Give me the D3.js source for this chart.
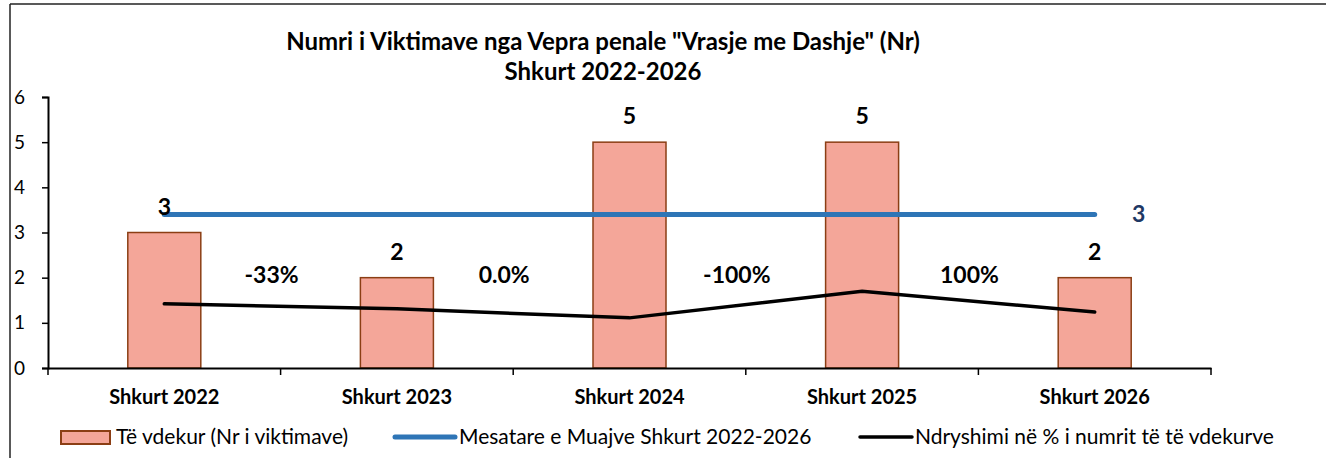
<!DOCTYPE html>
<html>
<head>
<meta charset="utf-8">
<script src="https://cdn.jsdelivr.net/npm/d3@7"></script>
<style>
  body { margin: 0; background: #fff; }
  svg { display: block; font-family: Lato, "Open Sans", sans-serif; }
</style>
</head>
<body>
<div id="chart"></div>
<script>
// data
var categories = ['Shkurt 2022', 'Shkurt 2023', 'Shkurt 2024', 'Shkurt 2025', 'Shkurt 2026'];
var victims = [3, 2, 5, 5, 2];
var average = 3.4;
var averageLabel = '3';
var changeLine = [1.42, 1.31, 1.11, 1.70, 1.24];
var changeLabels = ['-33%', '0.0%', '-100%', '100%'];
var yTicks = [0, 1, 2, 3, 4, 5, 6];
var titleLines = ['Numri i Viktimave nga Vepra penale "Vrasje me Dashje" (Nr)', 'Shkurt 2022-2026'];
var legendLabels = ['Të vdekur (Nr i viktimave)', 'Mesatare e Muajve Shkurt 2022-2026', 'Ndryshimi në % i numrit të të vdekurve'];

var width = 1326, height = 458;
var margin = {top: 97, left: 48, right: 115, bottom: 90};

var svg = d3.select('#chart').append('svg')
    .attr('width', width)
    .attr('height', height);

// frame (top and left edges)
svg.append('line').attr('x1', 10).attr('x2', width).attr('y1', 4).attr('y2', 4)
    .attr('stroke', '#222').attr('stroke-width', 1.5);
svg.append('line').attr('x1', 10).attr('x2', 10).attr('y1', 4).attr('y2', height)
    .attr('stroke', '#222').attr('stroke-width', 1.5);

var x = d3.scaleBand()
    .domain(categories)
    .range([margin.left, width - margin.right]);

var y = d3.scaleLinear()
    .domain([0, 6])
    .range([height - margin.bottom, margin.top]);

var barW = 73;

// title
svg.selectAll('text.title').data(titleLines)
    .enter().append('text')
    .attr('class', 'title')
    .attr('x', 603)
    .attr('y', function (d, i) { return 50 + i * 30; })
    .attr('text-anchor', 'middle')
    .attr('font-size', 24)
    .attr('font-weight', 'bold')
    .text(function (d) { return d; });

// bars
svg.selectAll('rect.bar').data(victims)
    .enter().append('rect')
    .attr('class', 'bar')
    .attr('x', function (d, i) { return x(categories[i]) + x.bandwidth() / 2 - barW / 2; })
    .attr('y', function (d) { return y(d); })
    .attr('width', barW)
    .attr('height', function (d) { return y(0) - y(d); })
    .attr('fill', '#F4A699')
    .attr('stroke', '#8B3E14')
    .attr('stroke-width', 1.5);

// y axis
var yAxis = svg.append('g')
    .attr('transform', 'translate(' + margin.left + ',0)')
    .call(d3.axisLeft(y).tickValues(yTicks).tickFormat(d3.format('d'))
        .tickSizeOuter(0).tickSize(6).tickPadding(17));
yAxis.select('.domain').attr('stroke', '#000').attr('stroke-width', 2);
yAxis.selectAll('.tick line').attr('stroke', '#000').attr('stroke-width', 1.5);
yAxis.selectAll('.tick text')
    .attr('font-size', 19)
    .attr('font-family', 'Lato, sans-serif')
    .attr('fill', '#000');

// x axis
var xAxis = svg.append('g')
    .attr('transform', 'translate(0,' + y(0) + ')')
    .call(d3.axisBottom(x).tickSize(0).tickSizeOuter(0).tickPadding(22));
xAxis.select('.domain').attr('stroke', '#000').attr('stroke-width', 2);
xAxis.selectAll('.tick text')
    .attr('font-size', 20)
    .attr('font-weight', 'bold')
    .attr('font-family', 'Lato, sans-serif')
    .attr('fill', '#000');

// category boundary ticks
var bounds = categories.map(function (c) { return x(c); }).concat([x(categories[categories.length - 1]) + x.bandwidth()]);
svg.selectAll('line.xtick').data(bounds)
    .enter().append('line')
    .attr('class', 'xtick')
    .attr('x1', function (d) { return d; })
    .attr('x2', function (d) { return d; })
    .attr('y1', y(0))
    .attr('y2', y(0) + 7)
    .attr('stroke', '#000')
    .attr('stroke-width', 1.5);

// average line
var cx = function (i) { return x(categories[i]) + x.bandwidth() / 2; };
svg.append('line')
    .attr('x1', cx(0))
    .attr('x2', cx(categories.length - 1))
    .attr('y1', y(average))
    .attr('y2', y(average))
    .attr('stroke', '#2E75B6')
    .attr('stroke-width', 5)
    .attr('stroke-linecap', 'round');
svg.append('text')
    .attr('x', cx(categories.length - 1) + 44)
    .attr('y', y(average) + 8)
    .attr('text-anchor', 'middle')
    .attr('font-size', 23)
    .attr('font-weight', 'bold')
    .attr('fill', '#1F3864')
    .text(averageLabel);

// change line
var line = d3.line()
    .x(function (d, i) { return cx(i); })
    .y(function (d) { return y(d); });
svg.append('path')
    .datum(changeLine)
    .attr('d', line)
    .attr('fill', 'none')
    .attr('stroke', '#000')
    .attr('stroke-width', 3.5)
    .attr('stroke-linecap', 'round');

// bar value labels
svg.selectAll('text.val').data(victims)
    .enter().append('text')
    .attr('class', 'val')
    .attr('x', function (d, i) { return cx(i); })
    .attr('y', function (d) { return y(d) - 18; })
    .attr('text-anchor', 'middle')
    .attr('font-size', 23)
    .attr('font-weight', 'bold')
    .text(function (d) { return d; });

// change labels, between categories
svg.selectAll('text.pct').data(changeLabels)
    .enter().append('text')
    .attr('class', 'pct')
    .attr('x', function (d, i) { return x(categories[i + 1]) - 9; })
    .attr('y', y(2.05) + 8)
    .attr('text-anchor', 'middle')
    .attr('font-size', 23)
    .attr('font-weight', 'bold')
    .text(function (d) { return d; });

// legend
var legendX = [61, 395, 860];
var lg = svg.selectAll('g.legend').data(legendLabels)
    .enter().append('g')
    .attr('class', 'legend')
    .attr('transform', function (d, i) { return 'translate(' + legendX[i] + ',437)'; });
lg.filter(function (d, i) { return i === 0; }).append('rect')
    .attr('x', 0).attr('y', -6).attr('width', 49).attr('height', 13)
    .attr('fill', '#F4A699').attr('stroke', '#8B3E14').attr('stroke-width', 2);
lg.filter(function (d, i) { return i === 1; }).append('line')
    .attr('x1', 0).attr('x2', 60).attr('y1', 0).attr('y2', 0)
    .attr('stroke', '#2E75B6').attr('stroke-width', 5).attr('stroke-linecap', 'round');
lg.filter(function (d, i) { return i === 2; }).append('line')
    .attr('x1', 0).attr('x2', 52).attr('y1', 0).attr('y2', 0)
    .attr('stroke', '#000').attr('stroke-width', 3.5).attr('stroke-linecap', 'round');
lg.append('text')
    .attr('x', function (d, i) { return [55, 64, 55][i]; })
    .attr('y', 7)
    .attr('font-size', 21)
    .text(function (d) { return d; });
</script>
</body>
</html>
